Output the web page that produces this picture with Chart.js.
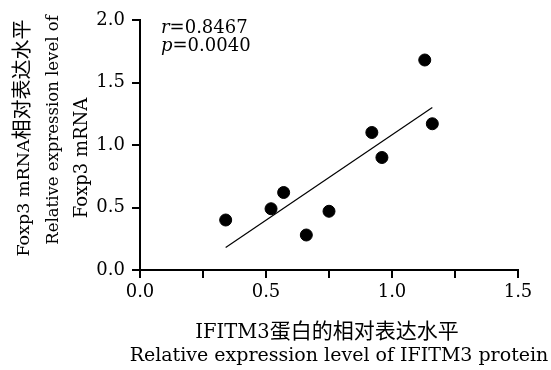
<!DOCTYPE html>
<html>
<head>
<meta charset="utf-8">
<script src="https://cdn.jsdelivr.net/npm/chart.js@4/dist/chart.umd.min.js"></script>
<style>
  html, body { margin: 0; padding: 0; background: #fff; }
  #wrap { width: 551px; height: 370px; }
</style>
</head>
<body>
<div id="wrap"><canvas id="corrChart" width="551" height="370"></canvas></div>
<script>
// IFITM3 protein vs Foxp3 mRNA
const ifitm3Protein = [0.34, 0.52, 0.57, 0.66, 0.75, 0.92, 0.96, 1.13, 1.16];
const foxp3Mrna = [0.40, 0.49, 0.62, 0.28, 0.47, 1.10, 0.90, 1.68, 1.17];
// ends of the fitted line
const fitX = [0.34, 1.16];
const fitY = [0.18, 1.30];
const xTickLabels = ['0.0', '0.5', '1.0', '1.5'];
const yTickLabels = ['0.0', '0.5', '1.0', '1.5', '2.0'];
const statR = '0.8467';
const statP = '0.0040';
// axis titles, split into latin / chinese runs
const xTitle1 = [['IFITM3', 'latin'], ['蛋白的相对表达水平', 'cjk']];
const xTitle2 = [['Relative expression level of IFITM3 protein', 'latin']];
const yTitle1 = [['Foxp3 mRNA', 'latin'], ['相对表达水平', 'cjk']];
const yTitle2 = [['Relative expression level of', 'latin']];
const yTitle3 = [['Foxp3 mRNA', 'latin']];

const serif = '"DejaVu Serif", "Liberation Serif", serif';
const cjk = '"Noto Sans CJK SC", sans-serif';

// draw one line made of runs, centred on (cx, baseline)
function drawRuns(ctx, runs, cx, baseline, latinSize, cjkSize) {
  const fontOf = (kind) => kind === 'cjk' ? cjkSize + 'px ' + cjk : latinSize + 'px ' + serif;
  let total = 0;
  runs.forEach(([t, kind]) => { ctx.font = fontOf(kind); total += ctx.measureText(t).width; });
  let x = cx - total / 2;
  runs.forEach(([t, kind]) => {
    ctx.font = fontOf(kind);
    ctx.fillText(t, x, baseline);
    x += ctx.measureText(t).width;
  });
}

const textPlugin = {
  id: 'textPlugin',
  afterDraw(chart) {
    const ctx = chart.ctx;
    const a = chart.chartArea;
    ctx.save();
    ctx.fillStyle = '#000';
    ctx.textAlign = 'left';
    ctx.textBaseline = 'alphabetic';

    // r / p statistics
    const x0 = a.left + 21;
    [['r', statR, a.top + 13], ['p', statP, a.top + 30.5]].forEach(([sym, val, y]) => {
      ctx.font = 'italic 18px ' + serif;
      ctx.fillText(sym, x0, y);
      const w = ctx.measureText(sym).width;
      ctx.font = '18px ' + serif;
      ctx.fillText('=' + val, x0 + w, y);
    });

    // x title
    drawRuns(ctx, xTitle1, 327, 338, 19.5, 21);
    drawRuns(ctx, xTitle2, 339, 361, 19, 19);

    // y title, rotated
    [[yTitle1, 29, 138, 17.5], [yTitle2, 57.5, 130, 16.5], [yTitle3, 86.5, 158, 18]].forEach(([runs, bx, cy, size]) => {
      ctx.save();
      ctx.translate(bx, cy);
      ctx.rotate(-Math.PI / 2);
      drawRuns(ctx, runs, 0, 0, size, 20);
      ctx.restore();
    });
    ctx.restore();
  }
};

const ctx = document.getElementById('corrChart').getContext('2d');
new Chart(ctx, {
  type: 'scatter',
  data: {
    datasets: [
      {
        label: 'samples',
        data: ifitm3Protein.map((x, i) => ({ x: x, y: foxp3Mrna[i] })),
        backgroundColor: '#000',
        borderColor: '#000',
        pointRadius: 6,
        pointHoverRadius: 6
      },
      {
        label: 'fit',
        type: 'line',
        data: fitX.map((x, i) => ({ x: x, y: fitY[i] })),
        borderColor: '#000',
        borderWidth: 1.2,
        pointRadius: 0,
        fill: false
      }
    ]
  },
  options: {
    responsive: false,
    animation: false,
    layout: { padding: { left: 0, top: 20, right: 33, bottom: 0 } },
    plugins: {
      legend: { display: false },
      tooltip: { enabled: false }
    },
    scales: {
      x: {
        type: 'linear',
        min: 0,
        max: 1.5,
        afterFit: (s) => { s.height = 100; },
        ticks: {
          stepSize: 0.25,
          color: '#000',
          padding: 4,
          maxRotation: 0,
          font: { family: serif, size: 18 },
          callback: (v) => {
            const t = Number(v).toFixed(1);
            return xTickLabels.includes(t) && Math.abs(v * 2 - Math.round(v * 2)) < 1e-6 ? t : '';
          }
        },
        grid: { drawOnChartArea: false, drawTicks: true, tickLength: 8, color: '#000', lineWidth: 2 },
        border: { display: true, color: '#000', width: 2 },
        title: { display: false }
      },
      y: {
        type: 'linear',
        min: 0,
        max: 2,
        afterFit: (s) => { s.width = 140; },
        ticks: {
          stepSize: 0.5,
          color: '#000',
          padding: 7,
          font: { family: serif, size: 18 },
          callback: (v) => {
            const t = Number(v).toFixed(1);
            return yTickLabels.includes(t) ? t : '';
          }
        },
        grid: { drawOnChartArea: false, drawTicks: true, tickLength: 8, color: '#000', lineWidth: 2 },
        border: { display: true, color: '#000', width: 2 },
        title: { display: false }
      }
    }
  },
  plugins: [textPlugin]
});
</script>
</body>
</html>
